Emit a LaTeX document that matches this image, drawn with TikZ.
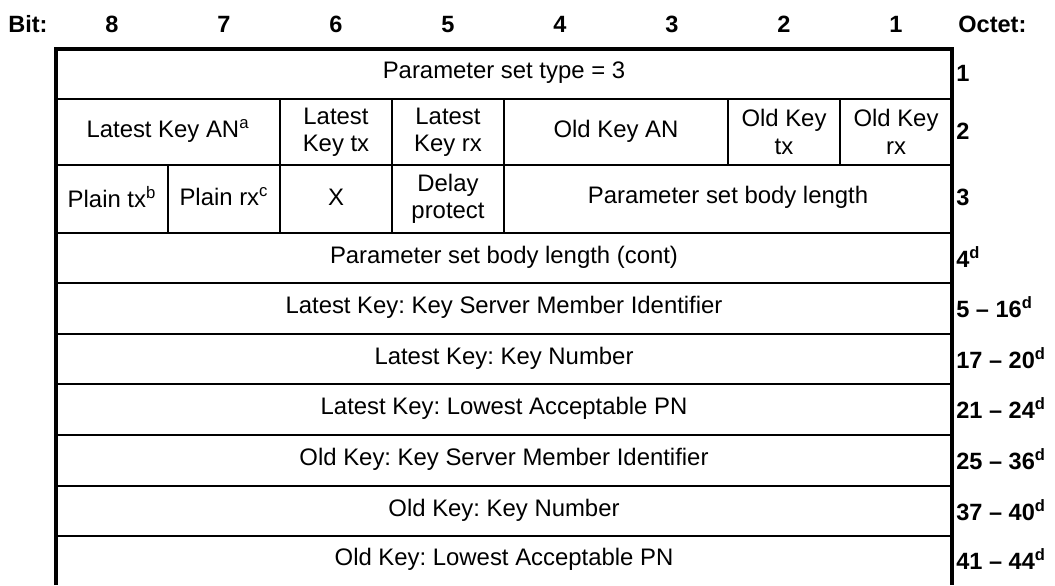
\documentclass[tikz,border=0pt]{standalone}
\usepackage{fontspec}
\setmainfont{Liberation Sans}
\usetikzlibrary{positioning,calc}
\tikzset{fieldtext/.style={font=\fontsize{13.6}{15.6}\selectfont\frenchspacing,align=center,inner sep=0pt},headtext/.style={font=\fontsize{13.4}{15}\selectfont\bfseries,inner sep=0pt},octettext/.style={headtext,anchor=west},fieldrule/.style={line width=0.6pt},framerule/.style={line width=2.3pt,line join=miter}}

\begin{document}
\begin{tikzpicture}[x=0.02cm,y=-0.02cm]
\useasboundingbox (0,0) rectangle (1055,585);
% header line
\node[headtext,anchor=base west] (bit) at (8,32) {Bit:};
\foreach \b in {1,...,8}
  \node[headtext,anchor=base] (bit\b) at ({56+112*(8-\b)+56},32) {\b};
\node[headtext,anchor=base west] (octet) at (958,32) {Octet:};
% horizontal rules
\foreach \y in {99,165,233,283,334,384,435,536}
  \draw[fieldrule] (56,\y) -- (952,\y);
\draw[line width=1.1pt] (56,486) -- (952,486);
% vertical rules, octets 2 and 3
\foreach \x in {280,392,504,728,840}
  \draw[fieldrule] (\x,99) -- (\x,165);
\foreach \x in {168,280,392,504}
  \draw[fieldrule] (\x,165) -- (\x,233);
% octet 1
\node[fieldtext] (ptype) at (504,73) {Parameter set type = 3};
\node[octettext] (o1) at (956,73) {1};
% octet 2
\node[fieldtext] (lan) at (168,131) {Latest Key AN\textsuperscript{a}};
\node[fieldtext] (ltx) at (336,132) {Latest\\Key tx};
\node[fieldtext] (lrx) at (448,132) {Latest\\Key rx};
\node[fieldtext] (oan) at (616,131) {Old Key AN};
\node[fieldtext] (otx) at (784,132) {Old Key\\tx};
\node[fieldtext] (orx) at (896,132) {Old Key\\rx};
\node[octettext] (o2) at (956,131) {2};
% octet 3
\node[fieldtext] (ptx) at (112,197) {Plain tx\textsuperscript{b}};
\node[fieldtext] (prx) at (224,197) {Plain rx\textsuperscript{c}};
\node[fieldtext] (xbit) at (336,197) {X};
\node[fieldtext] (delay) at (448,199) {Delay\\protect};
\node[fieldtext] (blen) at (728,197) {Parameter set body length};
\node[octettext] (o3) at (956,197) {3};
% full-width fields
\foreach \n/\y/\t/\o in {
  4/257/{Parameter set body length (cont)}/{4\textsuperscript{d}},
  5/307/{Latest Key: Key Server Member Identifier}/{5 -- 16\textsuperscript{d}},
  6/358/{Latest Key: Key Number}/{17 -- 20\textsuperscript{d}},
  7/408/{Latest Key: Lowest Acceptable PN}/{21 -- 24\textsuperscript{d}},
  8/459/{Old Key: Key Server Member Identifier}/{25 -- 36\textsuperscript{d}},
  9/510/{Old Key: Key Number}/{37 -- 40\textsuperscript{d}},
  10/559/{Old Key: Lowest Acceptable PN}/{41 -- 44\textsuperscript{d}}}{
  \node[fieldtext] (f\n) at (504,\y) {\t};
  \node[octettext] (o\n) at (956,\y) {\o};
}
% frame
\draw[framerule] (56,585) -- (56,49) -- (952,49) -- (952,585);
\end{tikzpicture}
\end{document}
